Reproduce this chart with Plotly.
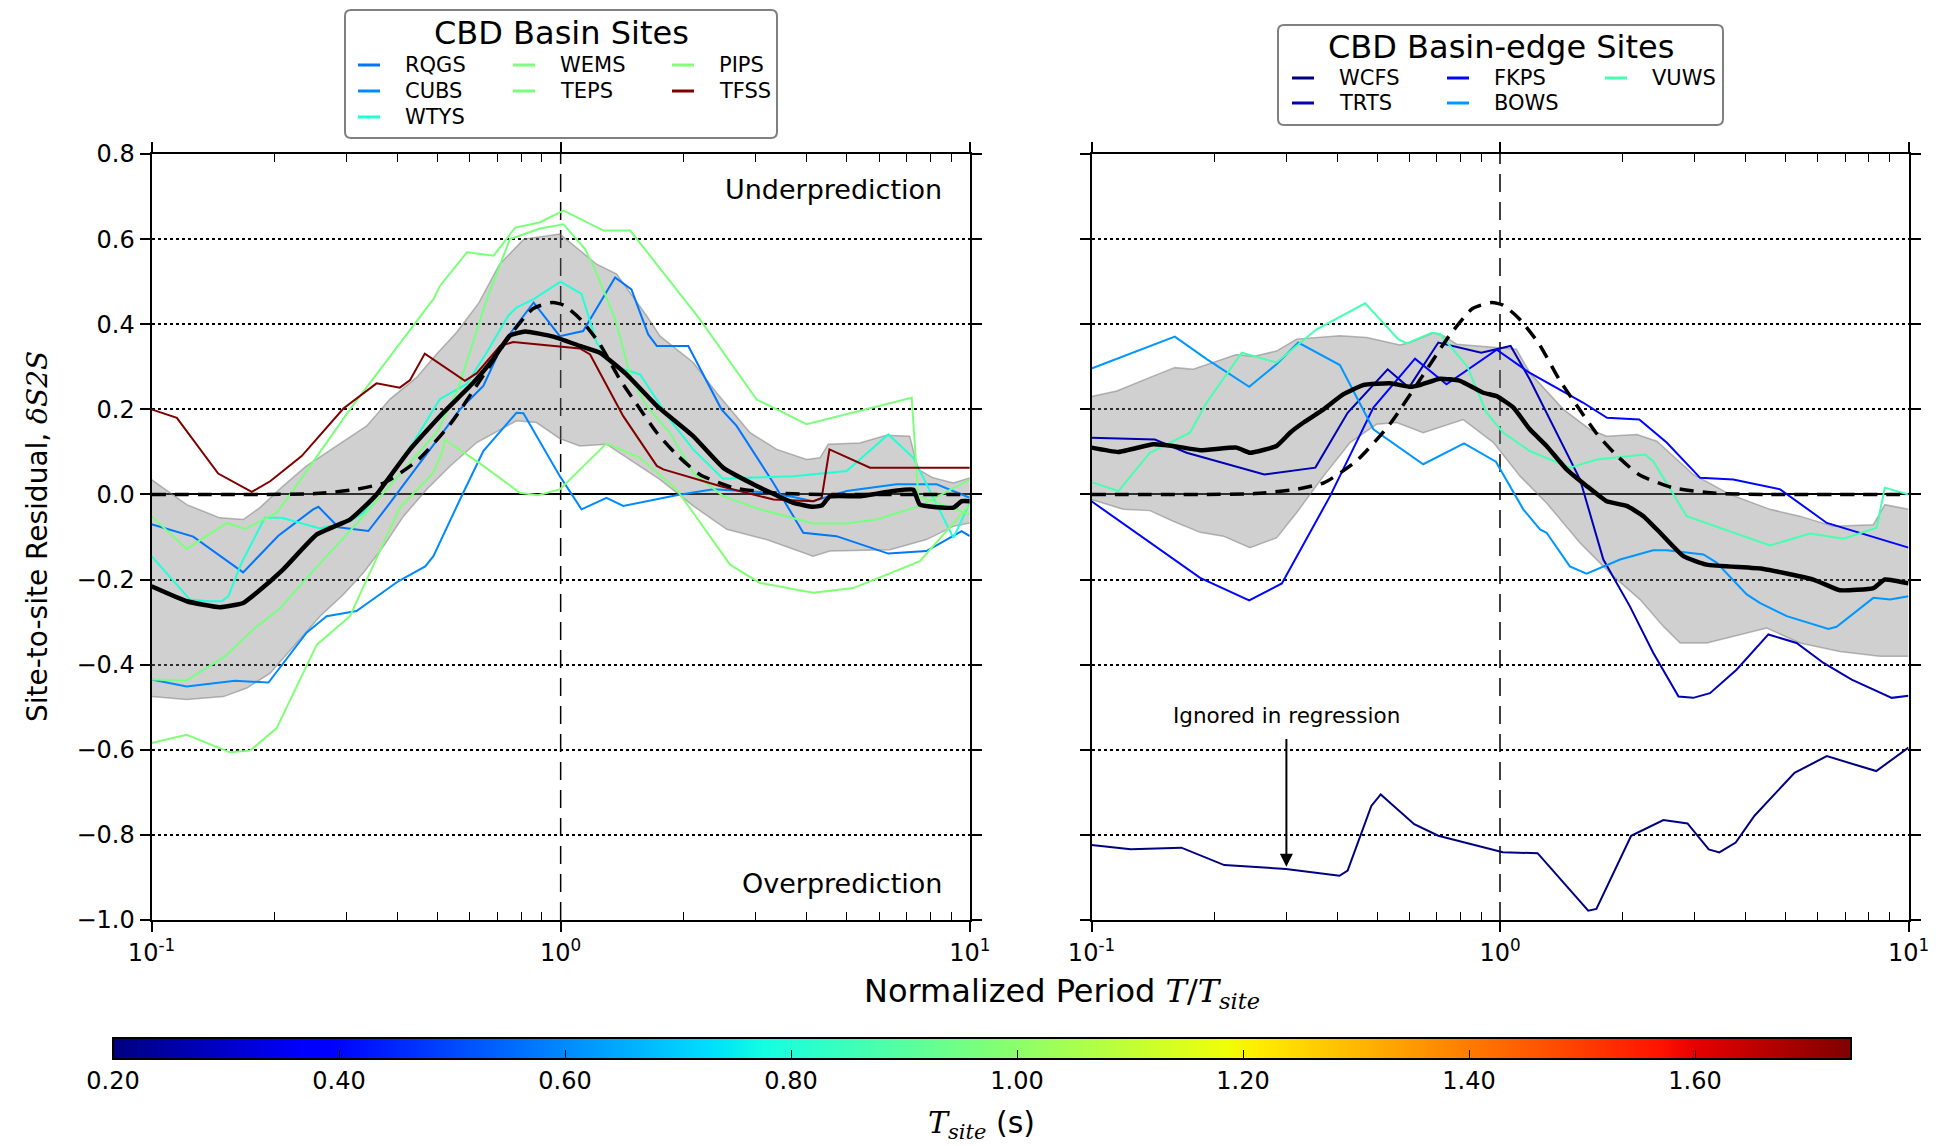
import numpy as np
import plotly.graph_objects as go

W, H = 1947, 1146

# ---------------- site natural periods (s), colour on a jet scale ----------------
T_MIN, T_MAX = 0.20, 1.738
basin_sites = ["RQGS", "CUBS", "WTYS", "WEMS", "TEPS", "PIPS", "TFSS"]
basin_tsite = [0.57, 0.60, 0.80, 0.97, 0.96, 0.98, 1.738]
edge_sites = ["WCFS", "TRTS", "FKPS", "BOWS", "VUWS"]
edge_tsite = [0.20, 0.27, 0.40, 0.62, 0.87]

# ---------------- left panel: log10(T/Tsite) and residual dS2S ----------------
rqgs_lt = [-1.0, -0.898, -0.776, -0.690, -0.605, -0.592, -0.543, -0.470, -0.417, -0.344, -0.246, -0.189, -0.140,
           -0.066, -0.002, 0.055, 0.133, 0.173, 0.214, 0.235, 0.312, 0.393, 0.430, 0.520, 0.593, 0.674, 0.801,
           0.894, 0.980, 1.0]
rqgs_v = [-0.070, -0.099, -0.183, -0.097, -0.035, -0.029, -0.077, -0.086, -0.020, 0.075, 0.200, 0.255, 0.357,
          0.451, 0.372, 0.384, 0.510, 0.482, 0.376, 0.349, 0.349, 0.200, 0.161, 0.027, -0.090, -0.098, -0.139,
          -0.133, -0.086, -0.098]

cubs_lt = [-1.0, -0.914, -0.796, -0.714, -0.621, -0.572, -0.499, -0.397, -0.331, -0.311, -0.246, -0.189, -0.108,
           -0.091, -0.002, 0.051, 0.112, 0.153, 0.283, 0.373, 0.487, 0.569, 0.617, 0.699, 0.821, 0.919, 1.0]
cubs_v = [-0.435, -0.451, -0.438, -0.442, -0.325, -0.286, -0.274, -0.204, -0.169, -0.145, -0.012, 0.102, 0.192,
          0.191, 0.043, -0.035, -0.008, -0.027, -0.002, 0.012, 0.006, -0.006, -0.016, 0.008, 0.024, 0.024, -0.008]

wtys_lt = [-1.0, -0.906, -0.861, -0.828, -0.812, -0.780, -0.723, -0.682, -0.588, -0.515, -0.482, -0.425, -0.360,
           -0.295, -0.230, -0.181, -0.128, -0.108, -0.066, 0.0, 0.051, 0.088, 0.129, 0.194, 0.267, 0.324, 0.397,
           0.454, 0.569, 0.699, 0.801, 0.862, 0.960, 1.0]
wtys_v = [-0.145, -0.247, -0.251, -0.251, -0.239, -0.161, -0.055, -0.055, -0.080, -0.063, -0.043, 0.035, 0.122,
          0.224, 0.259, 0.333, 0.420, 0.439, 0.459, 0.500, 0.471, 0.357, 0.302, 0.282, 0.176, 0.106, 0.037,
          0.039, 0.043, 0.055, 0.141, 0.086, -0.102, -0.020]

wems_lt = [-1.0, -0.914, -0.816, -0.771, -0.694, -0.661, -0.515, -0.311, -0.295, -0.229, -0.164, -0.111, -0.052,
           0.007, 0.105, 0.170, 0.340, 0.479, 0.601, 0.858, 0.874, 1.0]
wems_v = [-0.051, -0.128, -0.067, -0.081, -0.043, 0.0, 0.200, 0.459, 0.490, 0.569, 0.561, 0.627, 0.639,
          0.667, 0.620, 0.620, 0.412, 0.223, 0.165, 0.227, -0.004, -0.047]

teps_lt = [-1.0, -0.914, -0.820, -0.747, -0.688, -0.596, -0.500, -0.400, -0.300, -0.250, -0.180, -0.124, -0.050,
           0.007, 0.060, 0.084, 0.133, 0.173, 0.210, 0.267, 0.324, 0.397, 0.487, 0.617, 0.699, 0.772, 0.878, 1.0]
teps_v = [-0.435, -0.437, -0.380, -0.314, -0.270, -0.170, -0.070, 0.040, 0.150, 0.250, 0.460, 0.600, 0.625,
          0.635, 0.576, 0.529, 0.412, 0.271, 0.208, 0.145, 0.051, -0.004, -0.035, -0.068, -0.068, -0.059, -0.027,
          0.035]

pips_lt = [-1.0, -0.914, -0.808, -0.759, -0.694, -0.596, -0.515, -0.393, -0.311, -0.290, -0.283, -0.189, -0.100,
           -0.055, -0.002, 0.047, 0.112, 0.194, 0.283, 0.324, 0.414, 0.487, 0.617, 0.715, 0.878, 1.0]
pips_v = [-0.584, -0.565, -0.606, -0.602, -0.549, -0.353, -0.286, -0.031, 0.051, 0.098, 0.129, 0.067, 0.004,
          -0.002, 0.012, 0.059, 0.120, 0.086, 0.012, -0.043, -0.165, -0.208, -0.231, -0.220, -0.157, -0.024]

tfss_lt = [-1.0, -0.938, -0.837, -0.755, -0.710, -0.633, -0.531, -0.450, -0.393, -0.368, -0.332, -0.234, -0.205,
           -0.148, -0.116, 0.047, 0.072, 0.153, 0.235, 0.251, 0.389, 0.520, 0.618, 0.638, 0.657, 0.756, 1.0]
tfss_v = [0.200, 0.180, 0.049, 0.006, 0.031, 0.090, 0.202, 0.261, 0.251, 0.269, 0.331, 0.267, 0.285,
          0.349, 0.358, 0.343, 0.329, 0.184, 0.067, 0.059, 0.020, -0.012, -0.016, -0.008, 0.106, 0.063, 0.063]

basin_mean_lt = [-1.0, -0.914, -0.833, -0.776, -0.743, -0.678, -0.596, -0.515, -0.482, -0.450, -0.368, -0.287,
                 -0.213, -0.165, -0.124, -0.087, -0.018, 0.047, 0.096, 0.161, 0.235, 0.324, 0.397, 0.479, 0.569,
                 0.617, 0.638, 0.658, 0.731, 0.813, 0.862, 0.878, 0.960, 0.980, 1.0]
basin_mean_v = [-0.216, -0.251, -0.265, -0.255, -0.231, -0.176, -0.094, -0.059, -0.031, 0.0, 0.106, 0.192,
                0.263, 0.318, 0.373, 0.383, 0.371, 0.349, 0.333, 0.282, 0.208, 0.137, 0.063, 0.020, -0.020,
                -0.029, -0.026, -0.005, -0.004, 0.008, 0.011, -0.024, -0.031, -0.016, -0.016]

basin_up_lt = [-1.0, -0.914, -0.833, -0.776, -0.735, -0.678, -0.621, -0.547, -0.474, -0.417, -0.352, -0.303,
               -0.254, -0.200, -0.150, -0.090, -0.002, 0.088, 0.137, 0.210, 0.243, 0.324, 0.381, 0.463, 0.528,
               0.601, 0.634, 0.654, 0.731, 0.796, 0.853, 0.874, 0.910, 0.960, 1.0]
basin_up_v = [0.035, -0.024, -0.055, -0.059, -0.031, 0.020, 0.067, 0.114, 0.161, 0.224, 0.275, 0.330,
              0.381, 0.450, 0.540, 0.600, 0.612, 0.541, 0.518, 0.420, 0.372, 0.310, 0.239, 0.145, 0.106,
              0.082, 0.086, 0.118, 0.121, 0.139, 0.137, 0.059, 0.039, 0.027, 0.039]

basin_lo_lt = [-1.0, -0.914, -0.824, -0.767, -0.710, -0.637, -0.588, -0.531, -0.482, -0.433, -0.384, -0.327,
               -0.270, -0.205, -0.148, -0.108, -0.059, -0.002, 0.047, 0.112, 0.169, 0.243, 0.324, 0.406, 0.503,
               0.617, 0.658, 0.805, 0.894, 0.960, 1.0]
basin_lo_v = [-0.475, -0.482, -0.475, -0.455, -0.420, -0.341, -0.286, -0.235, -0.184, -0.122, -0.051, 0.012,
              0.067, 0.122, 0.153, 0.173, 0.169, 0.131, 0.114, 0.118, 0.082, 0.035, -0.027, -0.082, -0.106,
              -0.145, -0.133, -0.130, -0.106, -0.075, -0.067]

# model curve (dashed), same in both panels
model_lt = [-1.0, -0.600, -0.500, -0.430, -0.350, -0.270, -0.190, -0.124, -0.067, -0.020, 0.007, 0.047, 0.096,
            0.145, 0.186, 0.235, 0.283, 0.340, 0.422, 0.528, 0.650, 1.0]
model_v = [0.0, 0.002, 0.012, 0.028, 0.080, 0.165, 0.278, 0.373, 0.437, 0.451, 0.445, 0.413, 0.353,
           0.270, 0.212, 0.145, 0.094, 0.047, 0.016, 0.003, 0.0, 0.0]

# ---------------- right panel ----------------
wcfs_lt = [-1.0, -0.904, -0.780, -0.675, -0.524, -0.393, -0.373, -0.315, -0.292, -0.210, -0.151, 0.007, 0.092,
           0.216, 0.236, 0.321, 0.400, 0.459, 0.511, 0.537, 0.577, 0.623, 0.721, 0.800, 0.921, 1.0]
wcfs_v = [-0.824, -0.834, -0.830, -0.871, -0.880, -0.896, -0.884, -0.732, -0.705, -0.775, -0.802, -0.841, -0.843,
          -0.978, -0.974, -0.802, -0.765, -0.773, -0.834, -0.841, -0.818, -0.755, -0.654, -0.615, -0.650, -0.595]

trts_lt = [-1.0, -0.845, -0.767, -0.577, -0.452, -0.373, -0.275, -0.223, -0.151, -0.046, 0.026, 0.073, 0.196,
           0.253, 0.318, 0.375, 0.437, 0.473, 0.514, 0.579, 0.657, 0.726, 0.792, 0.861, 0.959, 1.0]
trts_v = [0.133, 0.129, 0.098, 0.047, 0.063, 0.192, 0.294, 0.251, 0.357, 0.333, 0.349, 0.270, 0.035,
          -0.153, -0.263, -0.372, -0.475, -0.478, -0.467, -0.412, -0.329, -0.349, -0.396, -0.435, -0.478, -0.473]

fkps_lt = [-1.0, -0.734, -0.614, -0.534, -0.416, -0.310, -0.208, -0.131, -0.008, 0.072, 0.203, 0.262, 0.341,
           0.408, 0.490, 0.571, 0.686, 0.800, 1.0]
fkps_v = [-0.016, -0.196, -0.249, -0.209, -0.004, 0.204, 0.319, 0.259, 0.340, 0.286, 0.216, 0.180, 0.176,
          0.122, 0.039, 0.035, 0.012, -0.067, -0.125]

bows_lt = [-1.0, -0.796, -0.718, -0.614, -0.547, -0.494, -0.392, -0.310, -0.188, -0.088, -0.010, 0.057, 0.098,
           0.114, 0.171, 0.212, 0.294, 0.375, 0.408, 0.498, 0.530, 0.604, 0.636, 0.702, 0.804, 0.824, 0.914,
           0.955, 1.0]
bows_v = [0.296, 0.371, 0.318, 0.253, 0.306, 0.357, 0.304, 0.153, 0.071, 0.120, 0.077, -0.035, -0.082,
          -0.090, -0.169, -0.186, -0.153, -0.131, -0.131, -0.141, -0.160, -0.235, -0.255, -0.286, -0.316, -0.311,
          -0.243, -0.247, -0.239]

vuws_lt = [-1.0, -0.934, -0.857, -0.759, -0.718, -0.632, -0.547, -0.449, -0.330, -0.249, -0.228, -0.167, -0.147,
           -0.081, -0.033, 0.008, 0.073, 0.171, 0.237, 0.355, 0.375, 0.457, 0.661, 0.759, 0.841, 0.922, 0.942, 1.0]
vuws_v = [0.029, 0.008, 0.098, 0.145, 0.216, 0.333, 0.310, 0.388, 0.449, 0.365, 0.355, 0.380, 0.377,
          0.302, 0.192, 0.145, 0.102, 0.063, 0.082, 0.094, 0.078, -0.051, -0.120, -0.092, -0.104, -0.078, 0.016,
          0.0]

edge_mean_lt = [-1.0, -0.934, -0.849, -0.800, -0.734, -0.645, -0.612, -0.547, -0.514, -0.481, -0.432, -0.384,
                -0.335, -0.269, -0.220, -0.196, -0.147, -0.098, -0.041, -0.008, 0.033, 0.073, 0.114, 0.163,
                0.212, 0.261, 0.310, 0.351, 0.392, 0.449, 0.506, 0.645, 0.767, 0.832, 0.914, 0.942, 1.0]
edge_mean_v = [0.110, 0.100, 0.118, 0.114, 0.104, 0.110, 0.098, 0.114, 0.145, 0.169, 0.200, 0.235,
               0.257, 0.261, 0.253, 0.257, 0.272, 0.267, 0.239, 0.231, 0.204, 0.153, 0.114, 0.059,
               0.020, -0.016, -0.027, -0.051, -0.090, -0.145, -0.165, -0.175, -0.200, -0.225, -0.220, -0.200,
               -0.209]

edge_up_lt = [-1.0, -0.938, -0.849, -0.796, -0.751, -0.645, -0.604, -0.547, -0.498, -0.392, -0.326, -0.245,
              -0.220, -0.163, -0.139, -0.106, 0.040, 0.073, 0.155, 0.220, 0.261, 0.335, 0.384, 0.473, 0.563,
              0.661, 0.734, 0.816, 0.914, 0.942, 1.0]
edge_up_v = [0.230, 0.243, 0.278, 0.298, 0.294, 0.329, 0.324, 0.337, 0.365, 0.373, 0.369, 0.351,
             0.357, 0.380, 0.373, 0.353, 0.341, 0.286, 0.200, 0.153, 0.137, 0.141, 0.125, 0.047, 0.0,
             -0.035, -0.051, -0.075, -0.071, -0.024, -0.035]

edge_lo_lt = [-1.0, -0.922, -0.857, -0.800, -0.734, -0.677, -0.612, -0.547, -0.498, -0.432, -0.367, -0.302,
              -0.253, -0.188, -0.090, -0.016, 0.049, 0.114, 0.196, 0.277, 0.343, 0.400, 0.441, 0.506, 0.653,
              0.734, 0.832, 0.930, 1.0]
edge_lo_v = [-0.012, -0.035, -0.038, -0.063, -0.089, -0.098, -0.125, -0.102, -0.043, 0.043, 0.122, 0.165,
             0.169, 0.145, 0.176, 0.122, 0.043, -0.020, -0.114, -0.192, -0.247, -0.310, -0.349, -0.349, -0.314,
             -0.349, -0.369, -0.380, -0.380]

basin_data = {"RQGS": (rqgs_lt, rqgs_v), "CUBS": (cubs_lt, cubs_v), "WTYS": (wtys_lt, wtys_v),
              "WEMS": (wems_lt, wems_v), "TEPS": (teps_lt, teps_v), "PIPS": (pips_lt, pips_v),
              "TFSS": (tfss_lt, tfss_v)}
edge_data = {"WCFS": (wcfs_lt, wcfs_v), "TRTS": (trts_lt, trts_v), "FKPS": (fkps_lt, fkps_v),
             "BOWS": (bows_lt, bows_v), "VUWS": (vuws_lt, vuws_v)}

y_ticks = [-1.0, -0.8, -0.6, -0.4, -0.2, 0.0, 0.2, 0.4, 0.6, 0.8]
x_major = [0.1, 1, 10]
x_major_text = ["10<sup>-1</sup>", "10<sup>0</sup>", "10<sup>1</sup>"]
x_minor = [0.2, 0.3, 0.4, 0.5, 0.6, 0.7, 0.8, 0.9, 2, 3, 4, 5, 6, 7, 8, 9]
cbar_ticks = [0.2, 0.4, 0.6, 0.8, 1.0, 1.2, 1.4, 1.6]


# ---------------- colour helpers (matplotlib "jet") ----------------
def jet(t):
    r = np.interp(t, [0, 0.35, 0.66, 0.89, 1], [0, 0, 1, 1, 0.5])
    g = np.interp(t, [0, 0.125, 0.375, 0.64, 0.91, 1], [0, 0, 1, 1, 0, 0])
    b = np.interp(t, [0, 0.11, 0.34, 0.65, 1], [0.5, 1, 1, 0, 0])
    return "rgb(%d,%d,%d)" % (round(r * 255), round(g * 255), round(b * 255))


def tcolor(ts):
    return jet((ts - T_MIN) / (T_MAX - T_MIN))


stops = sorted(set([round(v, 4) for v in np.linspace(0, 1, 41)] +
                   [0.11, 0.125, 0.34, 0.35, 0.375, 0.64, 0.65, 0.66, 0.89, 0.91]))
jet_scale = [[s, jet(s)] for s in stops]

basin_colors = {n: tcolor(t) for n, t in zip(basin_sites, basin_tsite)}
edge_colors = {n: tcolor(t) for n, t in zip(edge_sites, edge_tsite)}


def P(lt):
    return (10.0 ** np.array(lt)).tolist()


fig = go.Figure()
BAND_FILL = "rgba(128,128,128,0.37)"
BAND_EDGE = "rgba(128,128,128,0.55)"

for (xa, ya, up, lo, data, colors, mean) in [
    ("x", "y", (basin_up_lt, basin_up_v), (basin_lo_lt, basin_lo_v), basin_data, basin_colors,
     (basin_mean_lt, basin_mean_v)),
    ("x2", "y2", (edge_up_lt, edge_up_v), (edge_lo_lt, edge_lo_v), edge_data, edge_colors,
     (edge_mean_lt, edge_mean_v)),
]:
    fig.add_trace(go.Scatter(x=P(lo[0]), y=lo[1], mode="lines", line=dict(color=BAND_EDGE, width=1.5),
                             xaxis=xa, yaxis=ya, showlegend=False, hoverinfo="skip"))
    fig.add_trace(go.Scatter(x=P(up[0]), y=up[1], mode="lines", line=dict(color=BAND_EDGE, width=1.5),
                             fill="tonexty", fillcolor=BAND_FILL,
                             xaxis=xa, yaxis=ya, showlegend=False, hoverinfo="skip"))
    for name, (lt, v) in data.items():
        fig.add_trace(go.Scatter(x=P(lt), y=v, mode="lines", name=name,
                                 line=dict(color=colors[name], width=2),
                                 xaxis=xa, yaxis=ya, showlegend=False))
    fig.add_trace(go.Scatter(x=P(model_lt), y=model_v, mode="lines",
                             line=dict(color="black", width=3.5, dash="14px,9px", shape="spline", smoothing=0.6),
                             xaxis=xa, yaxis=ya, showlegend=False))
    fig.add_trace(go.Scatter(x=P(mean[0]), y=mean[1], mode="lines",
                             line=dict(color="black", width=4.5, shape="spline", smoothing=0.4),
                             xaxis=xa, yaxis=ya, showlegend=False))

# colour bar
fig.add_trace(go.Scatter(
    x=[None], y=[None], mode="markers", showlegend=False, hoverinfo="skip",
    marker=dict(color=[T_MIN], cmin=T_MIN, cmax=T_MAX, colorscale=jet_scale, showscale=True,
                colorbar=dict(orientation="h", x=982 / W, xanchor="center", len=1738 / W, lenmode="fraction",
                              y=1 - 1038 / H, yanchor="top", ypad=0, xpad=0, thickness=21,
                              thicknessmode="pixels", outlinecolor="black", outlinewidth=2,
                              tickmode="array", tickvals=cbar_ticks,
                              ticktext=["%.2f" % v for v in cbar_ticks],
                              ticks="inside", ticklen=10, tickcolor="black", tickwidth=1,
                              tickfont=dict(size=24, color="black", family="DejaVu Sans"))),
))

xcommon = dict(type="log", range=[-1, 1], tickmode="array", tickvals=x_major, ticktext=x_major_text,
               ticks="outside", ticklen=10, tickwidth=1.5, tickcolor="black",
               minor=dict(tickmode="array", tickvals=x_minor, ticks="inside", ticklen=8, tickwidth=1.2,
                          tickcolor="black", showgrid=False),
               showline=True, linecolor="black", linewidth=2, mirror="allticks",
               showgrid=False, zeroline=False, tickfont=dict(size=24, color="black"))
ycommon = dict(range=[-1.0, 0.8], tickmode="array", tickvals=y_ticks, tickformat=".1f",
               ticks="outside", ticklen=10, tickwidth=1.5, tickcolor="black",
               showline=True, linecolor="black", linewidth=2, mirror="allticks",
               showgrid=True, gridcolor="black", gridwidth=1.5, griddash="dot",
               zeroline=True, zerolinecolor="black", zerolinewidth=2, tickfont=dict(size=24, color="black"))

yd = [1 - 920 / H, 1 - 154 / H]
fig.update_layout(
    width=W, height=H, margin=dict(l=0, r=0, t=0, b=0, autoexpand=False),
    paper_bgcolor="white", plot_bgcolor="white",
    font=dict(family="DejaVu Sans", color="black"),
    showlegend=False,
    xaxis=dict(domain=[151.5 / W, 969.8 / W], anchor="y", **xcommon),
    xaxis2=dict(domain=[1091.5 / W, 1908.5 / W], anchor="y2", **xcommon),
    yaxis=dict(domain=yd, anchor="x", **ycommon),
    yaxis2=dict(domain=yd, anchor="x2", showticklabels=False, **ycommon),
)

shapes = []
annotations = []
for xr in ["x", "x2"]:
    yr = "y" if xr == "x" else "y2"
    shapes.append(dict(type="line", xref=xr, yref=yr + " domain", x0=1, x1=1, y0=0, y1=1,
                       line=dict(color="black", width=1.5, dash="18px,10px"), layer="below"))

annotations.append(dict(text="Underprediction", xref="x domain", yref="y domain", x=0.9685, y=0.954,
                        xanchor="right", yanchor="middle", showarrow=False, font=dict(size=27)))
annotations.append(dict(text="Overprediction", xref="x domain", yref="y domain", x=0.9685, y=0.048,
                        xanchor="right", yanchor="middle", showarrow=False, font=dict(size=27)))
annotations.append(dict(text="Ignored in regression", xref="x2", yref="y2", x=np.log10(0.30), y=-0.52,
                        xanchor="center", yanchor="middle", showarrow=False, font=dict(size=21.5)))
annotations.append(dict(text=" ", xref="x2", yref="y2", x=np.log10(0.30), y=-0.875,
                        axref="x2", ayref="y2", ax=np.log10(0.30), ay=-0.565, showarrow=True,
                        arrowhead=2, arrowsize=1.3, arrowwidth=2, arrowcolor="black", font=dict(size=4)))
annotations.append(dict(text="Site-to-site Residual, <span style='font-family:DejaVu Serif'><i>δS2S</i></span>",
                        xref="paper", yref="paper", x=37 / W, y=1 - 537 / H, textangle=-90,
                        xanchor="center", yanchor="middle", showarrow=False, font=dict(size=28)))
annotations.append(dict(text="Normalized Period <span style='font-family:DejaVu Serif'><i>T</i>/<i>T</i><sub><i>site</i></sub></span>",
                        xref="paper", yref="paper", x=1062 / W, y=1 - 993 / H,
                        xanchor="center", yanchor="middle", showarrow=False, font=dict(size=32)))
annotations.append(dict(text="<span style='font-family:DejaVu Serif'><i>T</i><sub><i>site</i></sub></span> (s)",
                        xref="paper", yref="paper", x=982 / W, y=1 - 1124 / H,
                        xanchor="center", yanchor="middle", showarrow=False, font=dict(size=30)))


# ---------------- hand-built legends ----------------
def px(x):
    return x / W


def py(y):
    return 1 - y / H


def rounded_box(x0, y0, x1, y1, r=6):
    X0, X1 = px(x0), px(x1)
    Y0, Y1 = py(y1), py(y0)  # bottom, top in paper coords
    rx, ry = r / W, r / H
    path = (f"M {X0 + rx},{Y0} L {X1 - rx},{Y0} Q {X1},{Y0} {X1},{Y0 + ry} "
            f"L {X1},{Y1 - ry} Q {X1},{Y1} {X1 - rx},{Y1} L {X0 + rx},{Y1} Q {X0},{Y1} {X0},{Y1 - ry} "
            f"L {X0},{Y0 + ry} Q {X0},{Y0} {X0 + rx},{Y0} Z")
    return dict(type="path", path=path, xref="paper", yref="paper", fillcolor="white",
                line=dict(color="#808080", width=2), layer="above")


def add_legend(box, title, title_y, columns, line_x, text_x, rows_y, colors):
    shapes.append(rounded_box(*box))
    annotations.append(dict(text=title, xref="paper", yref="paper", x=px((box[0] + box[2]) / 2), y=py(title_y),
                            xanchor="center", yanchor="middle", showarrow=False, font=dict(size=32)))
    for ci, col in enumerate(columns):
        for ri, name in enumerate(col):
            yy = py(rows_y[ri])
            shapes.append(dict(type="line", xref="paper", yref="paper", x0=px(line_x[ci]),
                               x1=px(line_x[ci] + 22), y0=yy, y1=yy,
                               line=dict(color=colors[name], width=3), layer="above"))
            annotations.append(dict(text=name, xref="paper", yref="paper", x=px(text_x[ci]), y=yy,
                                    xanchor="left", yanchor="middle", showarrow=False, font=dict(size=21)))


add_legend((345, 10, 777, 138), "CBD Basin Sites", 33,
           [["RQGS", "CUBS", "WTYS"], ["WEMS", "TEPS"], ["PIPS", "TFSS"]],
           [358, 513, 672], [403, 558, 717], [65, 91, 117], basin_colors)
add_legend((1278, 25, 1723, 125), "CBD Basin-edge Sites", 47,
           [["WCFS", "TRTS"], ["FKPS", "BOWS"], ["VUWS"]],
           [1292, 1447, 1605], [1337, 1492, 1650], [78, 103], edge_colors)

fig.update_layout(shapes=shapes, annotations=annotations)
fig.write_html("out.html")
